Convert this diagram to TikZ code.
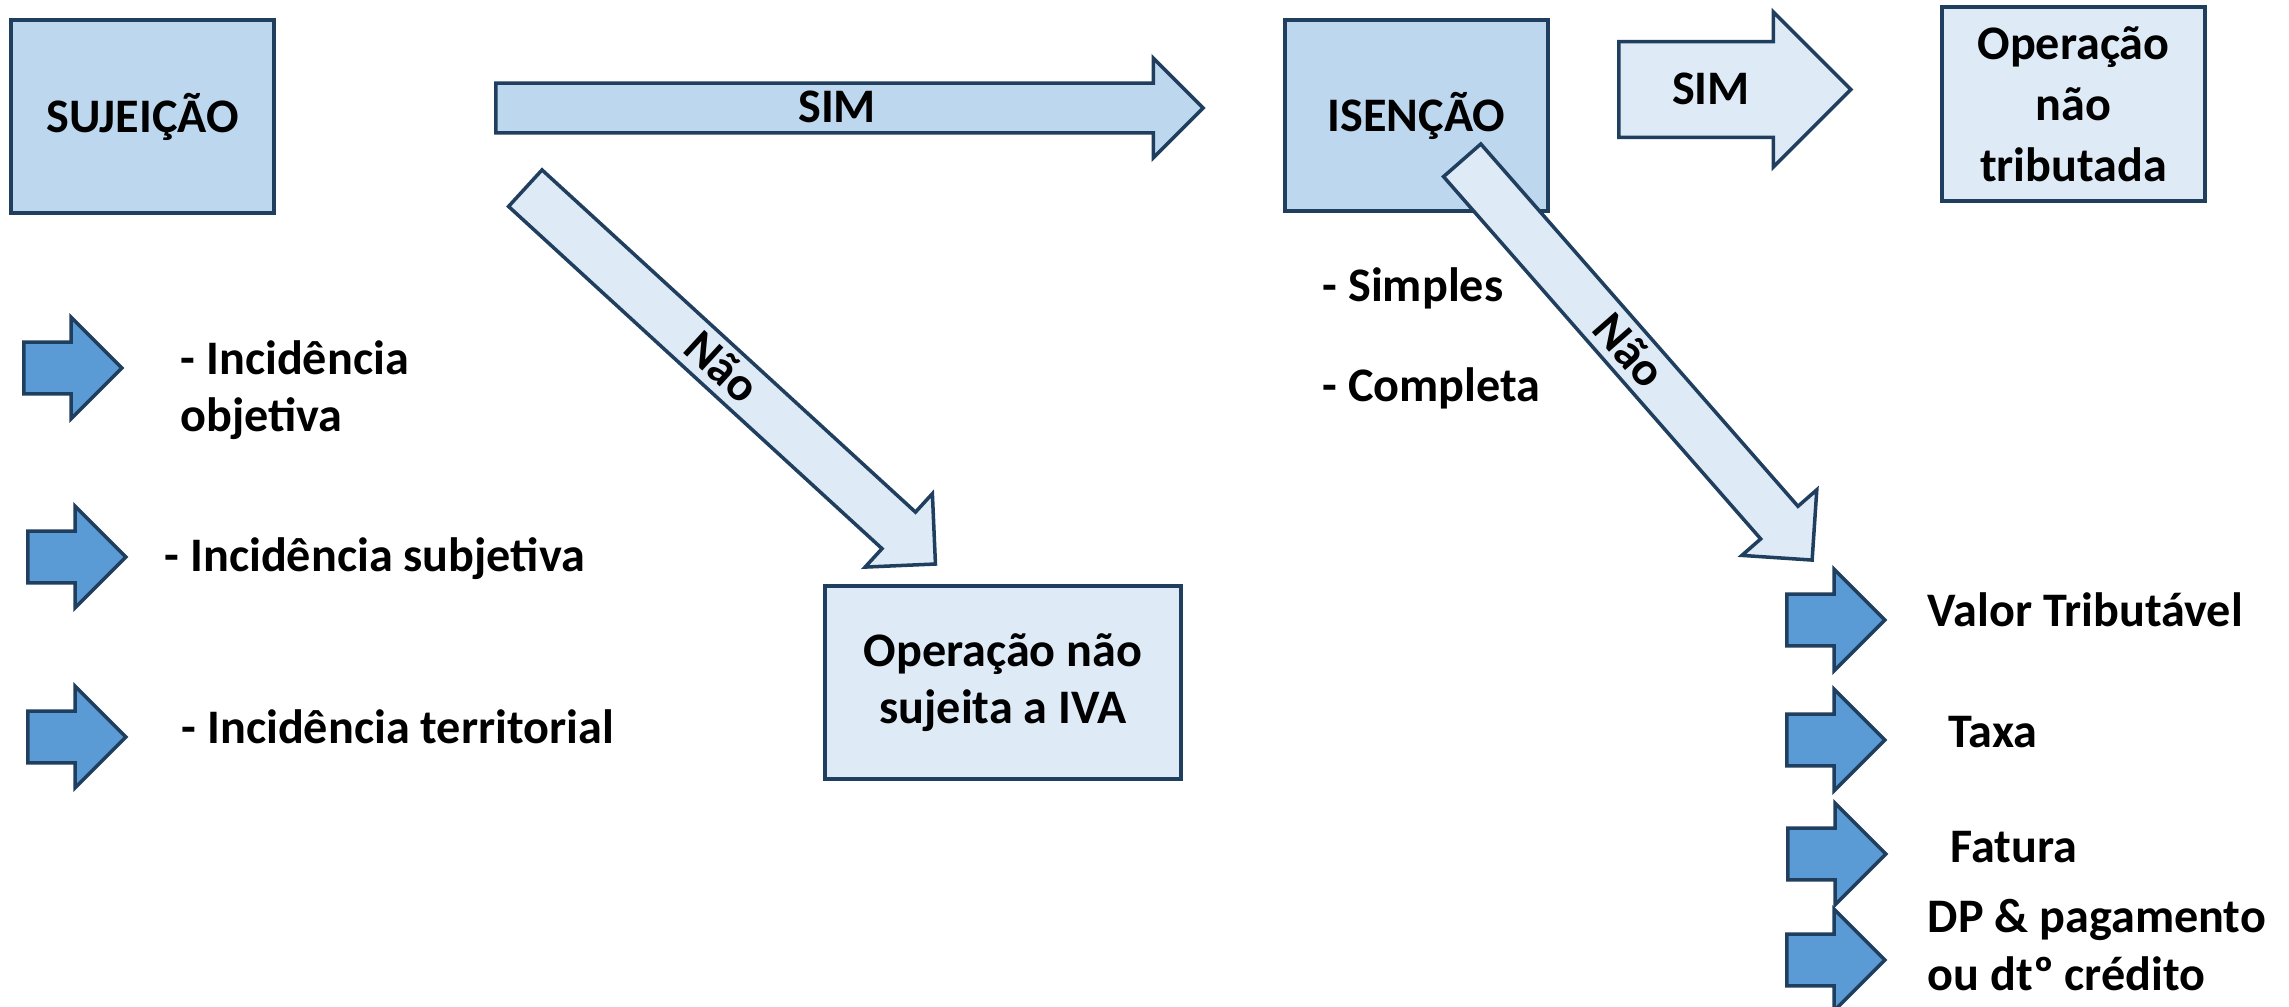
\documentclass[tikz,border=0pt]{standalone}
\usepackage{fontspec}
\setmainfont{Carlito}
\usetikzlibrary{shapes.arrows,positioning}
\definecolor{boxblue}{HTML}{BDD7EE}
\definecolor{paleblue}{HTML}{DEEBF7}
\definecolor{pointblue}{HTML}{5B9BD5}
\definecolor{edgeblue}{HTML}{203F5F}
\begin{document}
\begin{tikzpicture}[x=0.01cm, y=-0.01cm,
    font=\fontsize{13.7}{16.3}\selectfont\bfseries,
    block/.style={rectangle, draw=edgeblue, line width=1pt, fill=boxblue, minimum width=2.63cm, minimum height=1.93cm, align=center, inner sep=2pt},
    result/.style={block, fill=paleblue},
    bigarrow/.style={single arrow, draw=edgeblue, line width=1pt, fill=boxblue, single arrow tip angle=90, single arrow head extend=0.25cm, inner xsep=0pt, inner ysep=0pt, text height=0.38cm, text depth=0.08cm, anchor=tail},
    noarrow/.style={bigarrow, fill=paleblue, minimum width=0.97cm},
    pointer/.style={single arrow, draw=edgeblue, line width=1pt, fill=pointblue, single arrow tip angle=90, inner sep=0pt, text height=0.24cm, text depth=0.24cm, minimum width=0.98cm, minimum height=0.98cm, anchor=tail},
    item/.style={anchor=base west, inner sep=0pt, align=left}
]
\useasboundingbox (0,0) rectangle (2289,1007);

% Boxes
\node[block] (sujeicao) at (142.5,116.5) {SUJEIÇÃO};
\node[block, minimum height=1.91cm] (isencao) at (1416.5,115.5) {ISENÇÃO};
\node[result, minimum width=3.56cm] (naosujeita) at (1003,682.5) {Operação não\\sujeita a IVA};
\node[result, minimum height=1.94cm] (naotributada) at (2073.5,104) {Operação\\[1pt]não\\[1pt]tributada};

% Block arrows
\node[bigarrow, minimum height=7.07cm, minimum width=0.96cm] (simbig) at (494,108) {SIM};
\node[bigarrow, fill=paleblue, minimum height=2.32cm, minimum width=1.55cm, text height=0.535cm, text depth=0.235cm] (simsmall) at (1617,89.5) {SIM};
\node[noarrow, rotate=-42.5, minimum height=5.56cm] (naoleft) at (524,187) {Não};
\node[noarrow, rotate=-48.8, minimum height=5.31cm] (naoright) at (1461,159) {Não};

% Pointers
\node[pointer] (pobjetiva) at (22,368) {};
\node[pointer] (psubjetiva) at (26,557) {};
\node[pointer] (pterritorial) at (26,737) {};
\node[pointer] (pvalor) at (1785,620) {};
\node[pointer] (ptaxa) at (1785,740) {};
\node[pointer] (pfatura) at (1786,854) {};
\node[pointer] (pdp) at (1785,960) {};

% Texts
\node[item] (objetiva) at (180,432) {- Incidência\\objetiva};
\node[item] (subjetiva) at (164,572) {- Incidência subjetiva};
\node[item] (territorial) at (181,743) {- Incidência territorial};
\node[item] (simples) at (1322,302) {- Simples};
\node[item] (completa) at (1322,402) {- Completa};
\node[item] (valor) at (1927,627) {Valor Tributável};
\node[item] (taxa) at (1948,747) {Taxa};
\node[item] (fatura) at (1950,862) {Fatura};
\node[item] (dp) at (1927,990) {DP \& pagamento\\ou dtº crédito};

\end{tikzpicture}
\end{document}
